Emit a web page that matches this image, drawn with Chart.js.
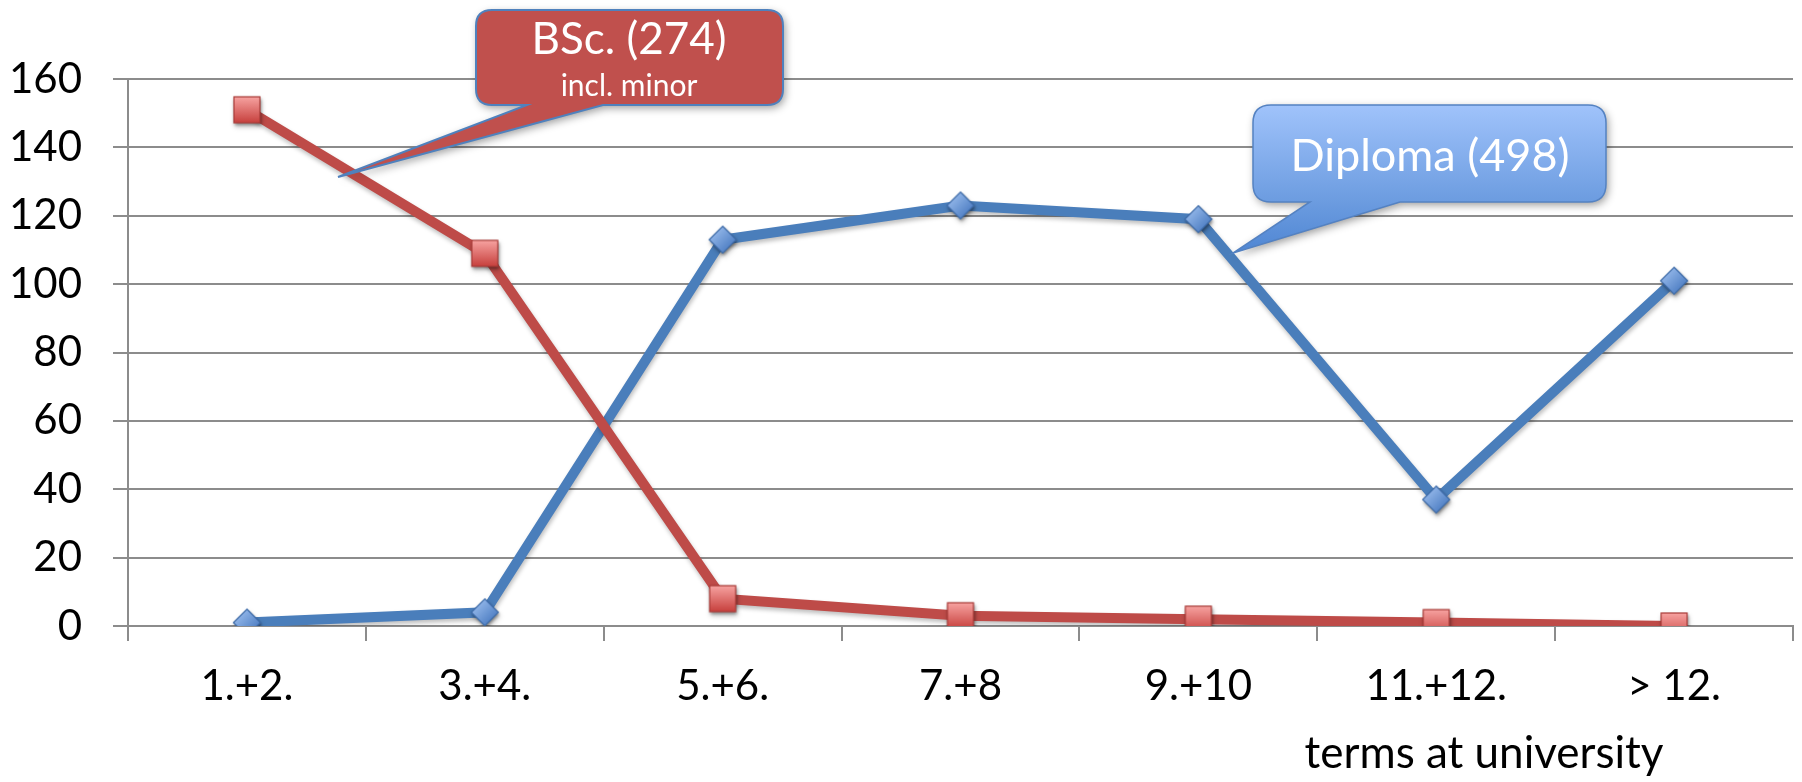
<!DOCTYPE html>
<html><head><meta charset="utf-8">
<script src="https://cdn.jsdelivr.net/npm/chart.js@4.4.1/dist/chart.umd.min.js"></script>
<style>html,body{margin:0;padding:0;background:#fff;overflow:hidden}</style>
</head><body>
<canvas id="c" width="1802" height="782"></canvas>
<script>
// ---- data ----
const categories = ['1.+2.', '3.+4.', '5.+6.', '7.+8', '9.+10', '11.+12.', '> 12.'];
const diplomaValues = [1, 4, 113, 123, 119, 37, 101];
const bscValues = [151, 109, 8, 3, 2, 1, 0];
const yMin = 0, yMax = 160, yStep = 20;
const xAxisTitle = 'terms at university';
const bscCallout = ['BSc. (274)', 'incl. minor'];
const diplomaCallout = 'Diploma (498)';

// ---- styles ----
const FONT = 'Lato, "Open Sans", sans-serif';
const GRID = '#8c8c8c';
const BLUE = '#4A7EBB';
const RED = '#BE4B48';

function diamondImage() {
  const s = 38, c = document.createElement('canvas');
  c.width = s; c.height = s;
  const g = c.getContext('2d');
  const cx = s / 2, cy = s / 2, r = 13.5;
  g.save();
  g.shadowColor = 'rgba(0,0,0,0.35)'; g.shadowBlur = 3; g.shadowOffsetX = 1; g.shadowOffsetY = 2;
  g.beginPath();
  g.moveTo(cx, cy - r); g.lineTo(cx + r, cy); g.lineTo(cx, cy + r); g.lineTo(cx - r, cy); g.closePath();
  const gr = g.createLinearGradient(cx - r, cy - r, cx + r * 0.6, cy + r * 0.6);
  gr.addColorStop(0, '#A9C9F5'); gr.addColorStop(1, '#4F7FC4');
  g.fillStyle = gr; g.fill();
  g.restore();
  g.beginPath();
  g.moveTo(cx, cy - r); g.lineTo(cx + r, cy); g.lineTo(cx, cy + r); g.lineTo(cx - r, cy); g.closePath();
  g.lineWidth = 1.2; g.strokeStyle = '#3D6BA8'; g.stroke();
  return c;
}
function squareImage() {
  const s = 38, c = document.createElement('canvas');
  c.width = s; c.height = s;
  const g = c.getContext('2d');
  const h = 13, x0 = s / 2 - h, y0 = s / 2 - h;
  g.save();
  g.shadowColor = 'rgba(0,0,0,0.35)'; g.shadowBlur = 3; g.shadowOffsetX = 1; g.shadowOffsetY = 2;
  const gr = g.createLinearGradient(0, y0, 0, y0 + 2 * h);
  gr.addColorStop(0, '#F7A3A1'); gr.addColorStop(1, '#C7403D');
  g.fillStyle = gr; g.fillRect(x0, y0, 2 * h, 2 * h);
  g.restore();
  g.lineWidth = 1.2; g.strokeStyle = '#A93B38'; g.strokeRect(x0, y0, 2 * h, 2 * h);
  return c;
}

function calloutPath(g, L, T, R, B, rad, p1, p2, tx, ty) {
  g.beginPath();
  g.moveTo(L + rad, T);
  g.lineTo(R - rad, T); g.quadraticCurveTo(R, T, R, T + rad);
  g.lineTo(R, B - rad); g.quadraticCurveTo(R, B, R - rad, B);
  g.lineTo(p2, B); g.lineTo(tx, ty); g.lineTo(p1, B);
  g.lineTo(L + rad, B); g.quadraticCurveTo(L, B, L, B - rad);
  g.lineTo(L, T + rad); g.quadraticCurveTo(L, T, L + rad, T);
  g.closePath();
}

const annotations = {
  id: 'annotations',
  afterDraw(chart) {
    const g = chart.ctx;
    // x axis title
    g.save();
    g.font = '44px ' + FONT; g.fillStyle = '#000'; g.textAlign = 'center'; g.textBaseline = 'alphabetic';
    g.fillText(xAxisTitle, 1484, 768);
    g.restore();

    // BSc callout
    g.save();
    calloutPath(g, 476, 10, 783, 105, 16, 527, 603, 338, 177);
    g.shadowColor = 'rgba(0,0,0,0.4)'; g.shadowBlur = 8; g.shadowOffsetX = 2; g.shadowOffsetY = 3;
    g.fillStyle = '#C0504D'; g.fill();
    g.shadowColor = 'transparent';
    g.lineWidth = 2; g.strokeStyle = '#4F81BD'; g.stroke();
    g.fillStyle = '#fff'; g.textAlign = 'center'; g.textBaseline = 'alphabetic';
    g.font = '44px ' + FONT; g.fillText(bscCallout[0], 629, 54);
    g.font = '30px ' + FONT; g.fillText(bscCallout[1], 629, 96);
    g.restore();

    // Diploma callout
    g.save();
    calloutPath(g, 1253, 105, 1606, 202, 18, 1310, 1400, 1233, 253);
    g.shadowColor = 'rgba(0,0,0,0.4)'; g.shadowBlur = 8; g.shadowOffsetX = 2; g.shadowOffsetY = 3;
    const gr = g.createLinearGradient(0, 105, 0, 253);
    gr.addColorStop(0, '#A0C3FB'); gr.addColorStop(0.65, '#6C9CE0'); gr.addColorStop(1, '#4F86D3');
    g.fillStyle = gr; g.fill();
    g.shadowColor = 'transparent';
    g.lineWidth = 1.5; g.strokeStyle = '#5482C2'; g.stroke();
    g.fillStyle = '#fff'; g.textAlign = 'center'; g.textBaseline = 'alphabetic';
    g.font = '45px ' + FONT; g.fillText(diplomaCallout, 1430, 171);
    g.restore();
  }
};

const lineShadow = {
  id: 'lineShadow',
  beforeDatasetsDraw(chart) {
    chart.ctx.save();
    chart.ctx.shadowColor = 'rgba(0,0,0,0.25)';
    chart.ctx.shadowBlur = 4; chart.ctx.shadowOffsetX = 1; chart.ctx.shadowOffsetY = 3;
  },
  afterDatasetsDraw(chart) { chart.ctx.restore(); }
};

new Chart(document.getElementById('c'), {
  type: 'line',
  data: {
    labels: categories,
    datasets: [
      { label: 'Diploma', data: diplomaValues, borderColor: BLUE, borderWidth: 10,
        pointStyle: diamondImage(), pointRadius: 13, pointHoverRadius: 13, tension: 0, order: 2 },
      { label: 'BSc.', data: bscValues, borderColor: RED, borderWidth: 10,
        pointStyle: squareImage(), pointRadius: 13, pointHoverRadius: 13, tension: 0, order: 1 }
    ]
  },
  options: {
    responsive: false, animation: false, devicePixelRatio: 1,
    layout: { autoPadding: false, padding: { top: 79, right: 9, bottom: 0, left: 0 } },
    plugins: { legend: { display: false }, tooltip: { enabled: false } },
    scales: {
      x: {
        offset: true,
        grid: { offset: true, drawOnChartArea: false, drawTicks: true, tickLength: 15, color: GRID, lineWidth: 2 },
        border: { color: GRID, width: 2 },
        ticks: { color: '#000', font: { family: FONT, size: 42 }, padding: 20, maxRotation: 0, autoSkip: false },
        afterFit(s) { s.height = 156; }
      },
      y: {
        min: yMin, max: yMax,
        grid: { color: GRID, lineWidth: 2, drawTicks: true, tickLength: 15 },
        border: { color: GRID, width: 2 },
        ticks: { stepSize: yStep, color: '#000', font: { family: FONT, size: 42 }, padding: 31 },
        afterFit(s) { s.width = 128; }
      }
    }
  },
  plugins: [lineShadow, annotations]
});
</script>
</body></html>
